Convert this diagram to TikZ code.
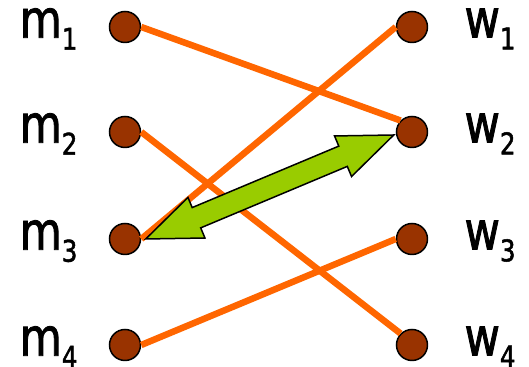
\documentclass[tikz,border=0pt]{standalone}
\usepackage{fontspec}
\newfontfamily\labfont[FakeStretch=0.82, FakeBold=1.6]{DejaVu Sans}
\usetikzlibrary{positioning, calc}
\definecolor{dotbrown}{HTML}{993300}
\definecolor{matchorange}{HTML}{FF6600}
\definecolor{swapgreen}{HTML}{99CC00}
\newcommand{\lsub}[1]{\raisebox{-6.8pt}[0pt][0pt]{\fontsize{17}{17}\selectfont #1}}

\begin{document}
\begin{tikzpicture}[x=0.02cm, y=0.02cm,
    dot/.style={circle, draw=black, line width=0.03cm, fill=dotbrown, minimum size=0.62cm, inner sep=0pt},
    lbl/.style={inner sep=0pt, yshift=0.08cm, font=\labfont\fontsize{30}{32}\selectfont},
    match/.style={matchorange, line width=0.13cm},
    fatarrow/.style={draw=black, fill=swapgreen, line width=0.03cm, line join=miter}]
  \useasboundingbox (0,0) rectangle (529,367);
  % men on the left, women on the right
  \foreach \i/\y in {1/340, 2/235, 3/128, 4/22} {
    \node[dot] (m\i) at (125,\y) {};
    \node[dot] (w\i) at (412,\y) {};
    \node[lbl, left=0.62cm of m\i] (lm\i) {m\lsub{\i}};
    \node[lbl, right=0.72cm of w\i] (lw\i) {w\lsub{\i}};
  }
  % current matching
  \draw[match] (m1.east) -- (w2.north west);
  \draw[match] (m2.east) -- (w4.north west);
  \draw[match] (m3.east) -- (w1.west);
  \draw[match] (m4.east) -- (w3.west);
  % blocking pair
  \coordinate (tl) at ($(m3.east)+(4.5,0)$);
  \coordinate (tr) at ($(w2.west)+(-2,-3)$);
  \coordinate (hl) at ($(tl)!1.1cm!(tr)$);
  \coordinate (hr) at ($(tr)!1.1cm!(tl)$);
  \path[fatarrow] (tl) -- ($(hl)!0.44cm!-90:(tr)$) -- ($(hl)!0.22cm!-90:(tr)$)
    -- ($(hr)!0.22cm!90:(tl)$) -- ($(hr)!0.44cm!90:(tl)$) -- (tr)
    -- ($(hr)!0.44cm!-90:(tl)$) -- ($(hr)!0.22cm!-90:(tl)$)
    -- ($(hl)!0.22cm!90:(tr)$) -- ($(hl)!0.44cm!90:(tr)$) -- cycle;
\end{tikzpicture}
\end{document}
